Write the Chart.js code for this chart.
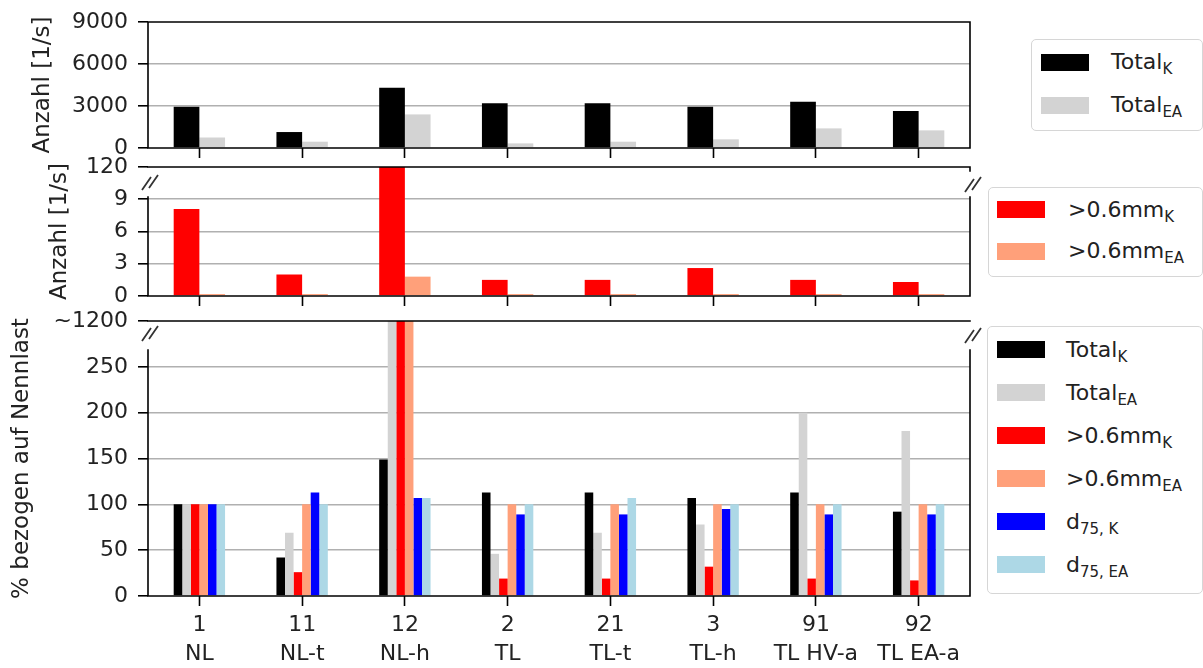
<!DOCTYPE html>
<html>
<head>
<meta charset="utf-8">
<script src="https://cdn.jsdelivr.net/npm/chart.js@4"></script>
<style>
  body { margin: 0; background: #fff; width: 1203px; height: 668px; overflow: hidden; position: relative; font-family: "DejaVu Sans", sans-serif; }
  canvas { position: absolute; left: 0; }
  .legend { position: absolute; background: #fff; border: 1px solid #d6d6d6; border-radius: 5px; box-sizing: border-box; }
  .legend .sw { position: absolute; width: 48px; height: 17px; }
  .legend .tx { position: absolute; font-size: 22px; line-height: 22px; color: #222; white-space: nowrap; }
  .legend sub { font-size: 15px; vertical-align: -5px; line-height: 0; }
</style>
</head>
<body>
<canvas id="topChart" width="990" height="176" style="top:-4px"></canvas>
<canvas id="midChart" width="990" height="180" style="top:140px"></canvas>
<canvas id="botChart" width="990" height="372" style="top:296px"></canvas>
<div id="topLegend" class="legend"></div>
<div id="midLegend" class="legend"></div>
<div id="botLegend" class="legend"></div>

<script>
const categories = [["1", "NL"], ["11", "NL-t"], ["12", "NL-h"], ["2", "TL"], ["21", "TL-t"], ["3", "TL-h"], ["91", "TL HV-a"], ["92", "TL EA-a"]];

// Anzahl [1/s], all particles
const totalK = [2950, 1140, 4300, 3200, 3200, 2950, 3300, 2650];
const totalEA = [750, 450, 2400, 330, 450, 620, 1400, 1260];

// Anzahl [1/s], > 0.6 mm  (NL-h K runs past the break)
const bigK = [8.1, 2.0, 120, 1.5, 1.5, 2.6, 1.5, 1.3];
const bigEA = [0.18, 0.18, 1.8, 0.18, 0.18, 0.18, 0.18, 0.18];

// % bezogen auf Nennlast  (NL-h values run past the break, ~1200)
const pctTotalK = [100, 42, 149, 113, 113, 107, 113, 92];
const pctTotalEA = [100, 69, 1200, 46, 69, 78, 200, 180];
const pctBigK = [100, 26, 1200, 19, 19, 32, 19, 17];
const pctBigEA = [100, 100, 1200, 100, 100, 100, 100, 100];
const pctD75K = [100, 113, 107, 89, 89, 95, 89, 89];
const pctD75EA = [100, 100, 107, 100, 107, 100, 100, 100];

const topTicks = [0, 3000, 6000, 9000];
const topTickLabels = ["0", "3000", "6000", "9000"];
const midTicks = [0, 3, 6, 9, 12];
const midTickLabels = ["0", "3", "6", "9", "120"];
const botTicks = [0, 50, 100, 150, 200, 250, 300];
const botTickLabels = ["0", "50", "100", "150", "200", "250", "~1200"];

const FONT = "'DejaVu Sans', sans-serif";
const TEXT = "#222";

// spines with an optional gap for the axis break, plus the // marks
const framePlugin = {
  id: "frame",
  afterDraw(chart, args, opts) {
    const { ctx, chartArea: a } = chart;
    const gap = opts.gap || 0;
    ctx.save();
    ctx.strokeStyle = "#000";
    ctx.lineWidth = 1.6;
    ctx.lineCap = "square";
    ctx.beginPath();
    ctx.moveTo(a.left, a.top); ctx.lineTo(a.right, a.top);
    ctx.moveTo(a.left, a.bottom); ctx.lineTo(a.right, a.bottom);
    ctx.moveTo(a.left, a.top + gap); ctx.lineTo(a.left, a.bottom);
    ctx.moveTo(a.right, a.top + gap); ctx.lineTo(a.right, a.bottom);
    if (opts.nub) { ctx.moveTo(a.right, a.top); ctx.lineTo(a.right, a.top + opts.nub); }
    ctx.stroke();
    if (gap) {
      ctx.strokeStyle = "#333";
      ctx.lineWidth = 1.8;
      ctx.lineCap = "butt";
      const marks = [[a.left + 3, a.top + opts.markY], [a.right + 4, a.top + opts.markY + 2]];
      marks.forEach(([cx, cy]) => {
        ctx.beginPath();
        for (const k of [0, 1]) {
          const x0 = cx - 9 + k * 7;
          const y0 = cy + 7 - k * 2;
          ctx.moveTo(x0, y0);
          ctx.lineTo(x0 + 9, y0 - 13);
        }
        ctx.stroke();
      });
    }
    ctx.restore();
  }
};

function bar(label, data, color) {
  return { label, data, backgroundColor: color, borderWidth: 0, clip: 0 };
}

function panelOptions(cfg) {
  return {
    responsive: false,
    animation: false,
    events: [],
    layout: { padding: { top: cfg.padTop, bottom: cfg.padBottom, left: 0, right: 20 } },
    datasets: { bar: { categoryPercentage: 0.5, barPercentage: 1.0 } },
    plugins: {
      legend: { display: false },
      tooltip: { enabled: false },
      frame: { gap: cfg.gap, markY: cfg.markY, nub: cfg.nub }
    },
    scales: {
      x: {
        offset: true,
        grid: { display: true, drawOnChartArea: false, drawTicks: true, tickLength: 10, tickColor: "#000", tickWidth: 1.6, offset: false },
        border: { display: false },
        ticks: { display: cfg.showX, color: TEXT, font: { family: FONT, size: 22, lineHeight: 1.32 }, padding: 4.5, maxRotation: 0, autoSkip: false },
        afterFit: (s) => { s.height = cfg.xHeight; }
      },
      y: {
        min: 0,
        max: cfg.ticks[cfg.ticks.length - 1],
        z: 1,
        afterBuildTicks: (s) => { s.ticks = cfg.ticks.map((v) => ({ value: v })); },
        ticks: { autoSkip: false, color: TEXT, font: { family: FONT, size: 22 }, padding: 10, callback: (v, i) => cfg.labels[i] },
        grid: {
          color: (c) => (c.tick && (c.tick.value === 0 || c.index === cfg.ticks.length - 1)) ? "rgba(0,0,0,0)" : "#b0b0b0",
          lineWidth: 1.6, tickColor: "#000", tickLength: 10, tickWidth: 1.6
        },
        border: { display: false },
        title: { display: true, text: cfg.title, color: TEXT, font: { family: FONT, size: 23 }, padding: { top: cfg.titlePad, bottom: 0 } },
        afterFit: (s) => { s.width = 148; }
      }
    }
  };
}

// canvas tops: -4, 140, 296 -> plot areas 22-148, 167-296, 321-596
const topChart = new Chart(document.getElementById("topChart"), {
  type: "bar",
  data: {
    labels: categories,
    datasets: [bar("Total_K", totalK, "#000000"), bar("Total_EA", totalEA, "#d3d3d3")]
  },
  options: panelOptions({ padTop: 26, padBottom: 14, xHeight: 10, showX: false, ticks: topTicks, labels: topTickLabels, title: "Anzahl [1/s]", titlePad: 29, gap: 0 }),
  plugins: [framePlugin]
});

const midChart = new Chart(document.getElementById("midChart"), {
  type: "bar",
  data: {
    labels: categories,
    datasets: [bar(">0.6mm_K", bigK, "#ff0000"), bar(">0.6mm_EA", bigEA, "#ffa07a")]
  },
  options: panelOptions({ padTop: 27, padBottom: 14, xHeight: 10, showX: false, ticks: midTicks, labels: midTickLabels, title: "Anzahl [1/s]", titlePad: 46, gap: 30, markY: 16, nub: 4 }),
  plugins: [framePlugin]
});

const botChart = new Chart(document.getElementById("botChart"), {
  type: "bar",
  data: {
    labels: categories,
    datasets: [
      bar("Total_K", pctTotalK, "#000000"),
      bar("Total_EA", pctTotalEA, "#d3d3d3"),
      bar(">0.6mm_K", pctBigK, "#ff0000"),
      bar(">0.6mm_EA", pctBigEA, "#ffa07a"),
      bar("d_75, K", pctD75K, "#0000ff"),
      bar("d_75, EA", pctD75EA, "#add8e6")
    ]
  },
  options: panelOptions({ padTop: 25, padBottom: 0, xHeight: 72, showX: true, ticks: botTicks, labels: botTickLabels, title: "% bezogen auf Nennlast", titlePad: 8, gap: 29, markY: 13 }),
  plugins: [framePlugin]
});

function buildLegend(id, chart, box) {
  const el = document.getElementById(id);
  el.style.left = box.left + "px";
  el.style.top = box.top + "px";
  el.style.width = box.width + "px";
  el.style.height = box.height + "px";
  chart.data.datasets.forEach((ds, i) => {
    const cy = box.first + i * box.step;
    const sw = document.createElement("div");
    sw.className = "sw";
    sw.style.left = box.swLeft + "px";
    sw.style.top = (cy - 8.5) + "px";
    sw.style.background = ds.backgroundColor;
    el.append(sw);

    const [main, sub] = ds.label.split("_");
    const tx = document.createElement("div");
    tx.className = "tx";
    tx.style.left = box.txLeft + "px";
    tx.style.top = (cy - 11) + "px";
    tx.append(main);
    const s = document.createElement("sub");
    s.textContent = sub;
    tx.append(s);
    el.append(tx);
  });
}

buildLegend("topLegend", topChart, { left: 1031, top: 39, width: 172, height: 92, first: 22, step: 43, swLeft: 9, txLeft: 79 });
buildLegend("midLegend", midChart, { left: 988, top: 187, width: 215, height: 90, first: 21.5, step: 41.5, swLeft: 8, txLeft: 79 });
buildLegend("botLegend", botChart, { left: 987, top: 326, width: 216, height: 268, first: 22.5, step: 43, swLeft: 9, txLeft: 78 });
</script>
</body>
</html>
